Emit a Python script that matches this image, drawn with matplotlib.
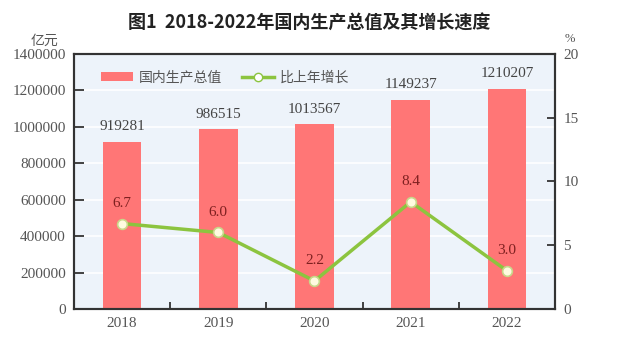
import matplotlib
matplotlib.use('Agg')
import matplotlib.pyplot as plt
from matplotlib.lines import Line2D
from matplotlib.patches import Patch

# data
years = ['2018', '2019', '2020', '2021', '2022']
gdp = [919281, 986515, 1013567, 1149237, 1210207]   # 亿元
growth = [6.7, 6.0, 2.2, 8.4, 3.0]                   # %
gdp_ticks = [0, 200000, 400000, 600000, 800000, 1000000, 1200000, 1400000]
pct_ticks = [0, 5, 10, 15, 20]

CJK = ['Noto Sans CJK SC', 'DejaVu Sans']
SERIF = 'Liberation Serif'
BAR = '#ff7676'
GREEN = '#8cc43f'
TXT = '#555555'

fig = plt.figure(figsize=(6.4, 3.51), dpi=100)
fig.patch.set_facecolor('white')
ax = fig.add_axes([0.1156, 0.1197, 0.7516, 0.7265])
ax.set_facecolor('#edf3fa')

x = list(range(len(years)))
ax.bar(x, gdp, width=0.4, color=BAR, zorder=2)
ax.set_xlim(-0.5, len(years) - 0.5)
ax.set_ylim(0, 1400000)
ax.set_yticks(gdp_ticks)
ax.set_yticklabels([str(v) for v in gdp_ticks], fontfamily=SERIF, fontsize=11, color=TXT)
ax.set_xticks(x)
ax.set_xticklabels(years, fontfamily=SERIF, fontsize=11, color=TXT)
ax.set_xticks([i + 0.5 for i in x[:-1]], minor=True)
ax.tick_params(axis='x', which='major', length=0, pad=6)
ax.tick_params(axis='x', which='minor', direction='in', length=5, width=1.3, color='#333333')
ax.tick_params(axis='y', direction='in', length=7, width=1.3, color='#333333', pad=6)
ax.grid(axis='y', color='white', linewidth=1.2, zorder=1)
ax.set_axisbelow(True)
for s in ax.spines.values():
    s.set_color('#333333')
    s.set_linewidth(1.5)

for xi, v in zip(x, gdp):
    ax.annotate(str(v), (xi, v), xytext=(0, 6), textcoords='offset points',
                ha='center', va='bottom', fontfamily=SERIF, fontsize=11, color='#444444', zorder=5)

ax2 = ax.twinx()
ax2.set_ylim(0, 20)
ax2.set_yticks(pct_ticks)
ax2.set_yticklabels([str(v) for v in pct_ticks], fontfamily=SERIF, fontsize=11, color=TXT)
ax2.tick_params(axis='y', direction='in', length=6, width=1.3, color='#333333', pad=6)
for s in ax2.spines.values():
    s.set_color('#333333')
    s.set_linewidth(1.5)
ax2.plot(x, growth, color=GREEN, linewidth=2.5, marker='o', markersize=7,
         markerfacecolor='#fffbe0', markeredgecolor='#c8d88a', markeredgewidth=1.2, zorder=4)
for xi, v in zip(x, growth):
    ax2.annotate(f'{v:.1f}', (xi, v), xytext=(0, 10), textcoords='offset points',
                 ha='center', va='bottom', fontfamily=SERIF, fontsize=11, color='#7e2020')

handles = [Patch(facecolor=BAR, edgecolor='none'),
           Line2D([], [], color=GREEN, linewidth=2.5, marker='o', markersize=6,
                  markerfacecolor='white', markeredgecolor=GREEN)]
leg = ax2.legend(handles, ['国内生产总值', '比上年增长'], loc='upper left',
                 bbox_to_anchor=(0.03, 0.985), ncol=2, frameon=False,
                 prop={'family': CJK, 'size': 10}, handlelength=2.3, handleheight=0.6,
                 columnspacing=1.5, handletextpad=0.4)
for t in leg.get_texts():
    t.set_color(TXT)

fig.text(0.07, 0.885, '亿元', fontfamily=CJK, fontsize=10, color=TXT, ha='center', va='center')
fig.text(0.89, 0.89, '%', fontfamily=SERIF, fontsize=9, color=TXT, ha='center', va='center')
fig.text(0.483, 0.935, '图1  2018-2022年国内生产总值及其增长速度', fontfamily=CJK,
         fontsize=13, fontweight='bold', color='#222222', ha='center', va='center')

fig.savefig('out.png', dpi=100)
